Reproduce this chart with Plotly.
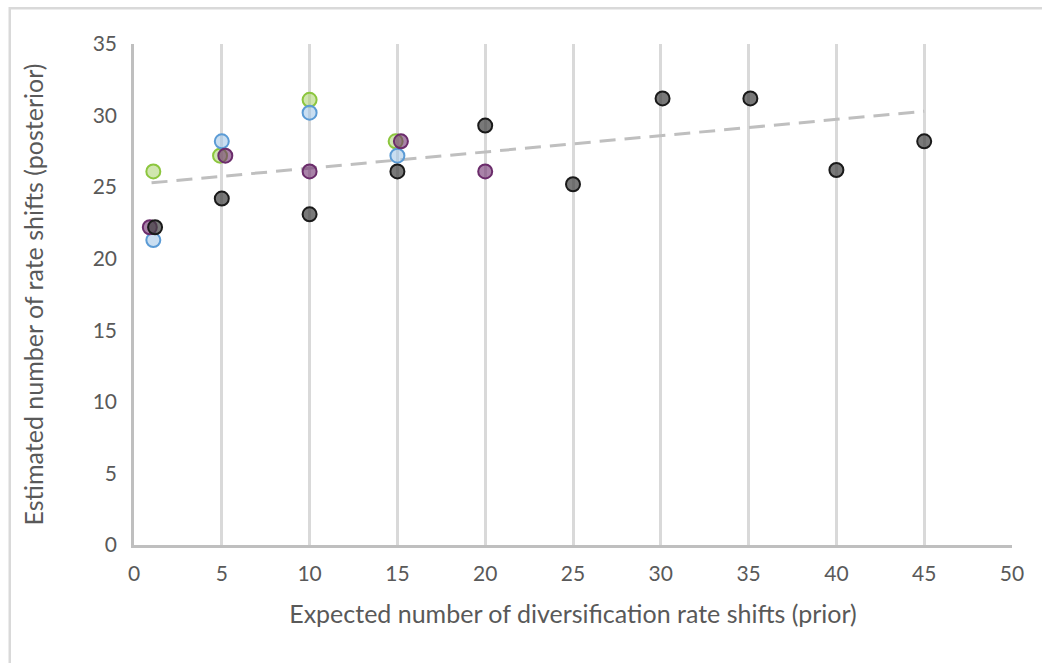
import plotly.graph_objects as go

# Data
green_x = [1.1, 4.9, 10.0, 14.9]
green_y = [26.1, 27.2, 31.1, 28.2]
blue_x = [1.1, 5.0, 10.0, 15.0]
blue_y = [21.3, 28.2, 30.2, 27.2]
purple_x = [0.9, 5.2, 10.0, 15.2, 20.0]
purple_y = [22.2, 27.2, 26.1, 28.2, 26.1]
black_x = [1.2, 5.0, 10.0, 15.0, 20.0, 25.0, 30.1, 35.1, 40.0, 45.0]
black_y = [22.2, 24.2, 23.1, 26.1, 29.3, 25.2, 31.2, 31.2, 26.2, 28.2]
trend_x = [1.0, 45.0]
trend_y = [25.3, 30.3]

x_ticks = [0, 5, 10, 15, 20, 25, 30, 35, 40, 45, 50]
y_ticks = [0, 5, 10, 15, 20, 25, 30, 35]

FONT = "Lato, 'Open Sans', sans-serif"
TXT = "#595959"

fig = go.Figure()

fig.add_trace(go.Scatter(x=trend_x, y=trend_y, mode="lines",
                         line=dict(color="#bfbfbf", width=3, dash="16px,9px"),
                         hoverinfo="skip", showlegend=False))

def add(xs, ys, fill, edge):
    fig.add_trace(go.Scatter(x=xs, y=ys, mode="markers", showlegend=False,
                             marker=dict(size=14, color=fill,
                                         line=dict(color=edge, width=2))))

add(green_x, green_y, "rgba(169,209,110,0.55)", "#8cc63e")
add(blue_x, blue_y, "rgba(157,195,230,0.55)", "#5b9bd5")
add(purple_x, purple_y, "rgba(112,48,112,0.6)", "#6b2c6b")
add(black_x, black_y, "rgba(64,64,64,0.7)", "#1a1a1a")

fig.update_layout(
    width=1042, height=663,
    margin=dict(l=134, r=30, t=44, b=118),
    paper_bgcolor="white", plot_bgcolor="white",
    font=dict(family=FONT, color=TXT, size=21),
    xaxis=dict(range=[0, 50], tickvals=x_ticks, showgrid=True,
               gridcolor="#d9d9d9", gridwidth=3, zeroline=False,
               showline=True, linecolor="#bfbfbf", linewidth=2.5,
               ticks="", tickfont=dict(size=21, color=TXT),
               ticklabelstandoff=8,
               title=dict(text="Expected number of diversification rate shifts (prior)",
                          font=dict(size=25, color=TXT), standoff=22)),
    yaxis=dict(range=[0, 35], tickvals=y_ticks, showgrid=False, zeroline=False,
               showline=True, linecolor="#bfbfbf", linewidth=2.5,
               ticks="", tickfont=dict(size=21, color=TXT),
               ticklabelstandoff=10,
               title=dict(text="Estimated number of rate shifts (posterior)",
                          font=dict(size=25, color=TXT), standoff=42)),
    shapes=[dict(type="rect", xref="paper", yref="paper",
                 x0=-0.1415, x1=1.2, y0=-0.4, y1=1.0715,
                 line=dict(color="#d9d9d9", width=2.5), fillcolor="rgba(0,0,0,0)",
                 layer="below")],
)

fig.write_html("out.html", config={"displayModeBar": False},
               post_script="document.body.style.margin='0';")
